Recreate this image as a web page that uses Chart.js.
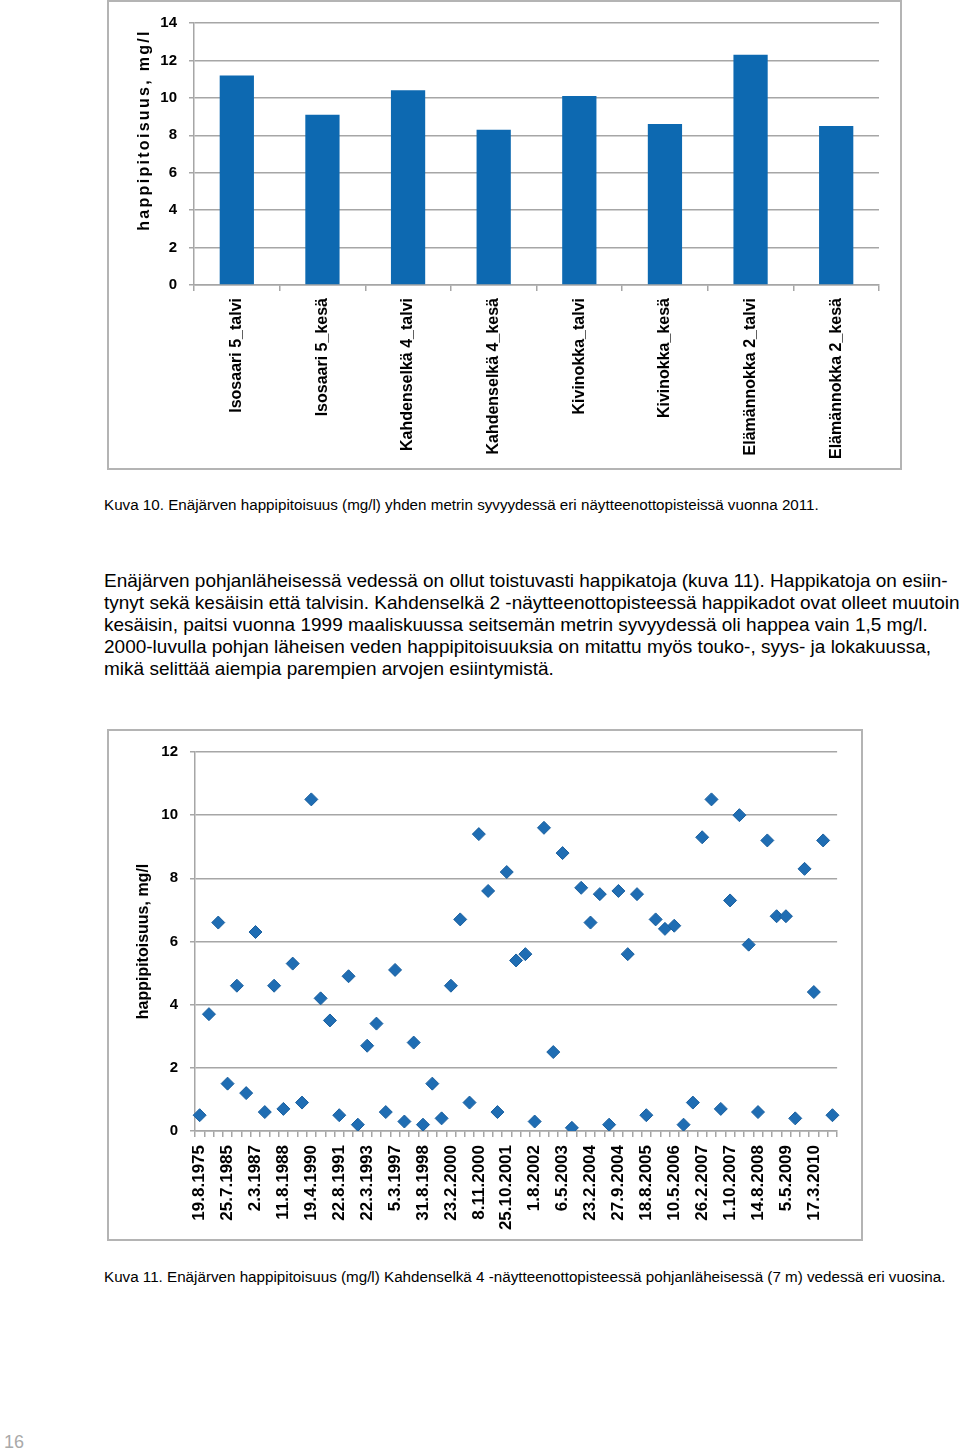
<!DOCTYPE html>
<html>
<head>
<meta charset="utf-8">
<script src="https://cdn.jsdelivr.net/npm/chart.js@4.4.1/dist/chart.umd.min.js"></script>
<style>
  body { margin: 0; background: #fff; font-family: "Liberation Sans", Arial, sans-serif; color: #000; }
  #page { position: relative; width: 960px; height: 1453px; overflow: hidden; }
  .box { position: absolute; border: 2px solid #b4b4b4; box-sizing: border-box; }
  .box canvas { position: absolute; left: 0; top: 0; }
  .caption { position: absolute; left: 104px; font-size: 15.2px; line-height: 16px; white-space: nowrap; }
  #para { position: absolute; left: 104px; top: 570px; font-size: 19px; line-height: 22px; white-space: nowrap; }
  #barTitle { position: absolute; left: 24px; top: 120px; width: 240px; height: 20px; line-height: 20px;
    text-align: center; font-weight: bold; font-size: 16px; letter-spacing: 2.3px; white-space: nowrap;
    transform: rotate(-90deg); }
  #pageNo { position: absolute; left: 4px; top: 1431px; font-size: 18px; line-height: 22px; color: #a9a9a9; }
</style>
</head>
<body>
<div id="page">
  <div class="box" style="left:107px; top:0px; width:795px; height:470px;">
    <canvas id="barChart" width="791" height="466"></canvas>
  </div>
  <div id="barTitle">happipitoisuus, mg/l</div>

  <div class="caption" style="top:497px;">Kuva 10. Enäjärven happipitoisuus (mg/l) yhden metrin syvyydessä eri näytteenottopisteissä vuonna 2011.</div>

  <div id="para">Enäjärven pohjanläheisessä vedessä on ollut toistuvasti happikatoja (kuva 11). Happikatoja on esiin-<br>tynyt sekä kesäisin että talvisin. Kahdenselkä 2 -näytteenottopisteessä happikadot ovat olleet muutoin<br>kesäisin, paitsi vuonna 1999 maaliskuussa seitsemän metrin syvyydessä oli happea vain 1,5 mg/l.<br>2000-luvulla pohjan läheisen veden happipitoisuuksia on mitattu myös touko-, syys- ja lokakuussa,<br>mikä selittää aiempia parempien arvojen esiintymistä.</div>

  <div class="box" style="left:107px; top:729px; width:756px; height:512px;">
    <canvas id="scatterChart" width="752" height="508"></canvas>
  </div>

  <div class="caption" style="top:1269px;">Kuva 11. Enäjärven happipitoisuus (mg/l) Kahdenselkä 4 -näytteenottopisteessä pohjanläheisessä (7 m) vedessä eri vuosina.</div>

  <div id="pageNo">16</div>
</div>

<script>
// Kuva 10 data
const siteLabels = ["Isosaari 5_talvi", "Isosaari 5_kesä", "Kahdenselkä 4_talvi", "Kahdenselkä 4_kesä",
  "Kivinokka_talvi", "Kivinokka_kesä", "Elämännokka 2_talvi", "Elämännokka 2_kesä"];
const siteOxygen = [11.2, 9.1, 10.4, 8.3, 10.1, 8.6, 12.3, 8.5];

// Kuva 11 data (only every third date is printed on the axis)
const sampleDates = ["19.8.1975", "25.7.1985", "2.3.1987", "11.8.1988", "19.4.1990", "22.8.1991",
  "22.3.1993", "5.3.1997", "31.8.1998", "23.2.2000", "8.11.2000", "25.10.2001", "1.8.2002",
  "6.5.2003", "23.2.2004", "27.9.2004", "18.8.2005", "10.5.2006", "26.2.2007", "1.10.2007",
  "14.8.2008", "5.5.2009", "17.3.2010"];
const bottomOxygen = [0.5, 3.7, 6.6, 1.5, 4.6, 1.2, 6.3, 0.6, 4.6, 0.7, 5.3, 0.9, 10.5, 4.2, 3.5,
  0.5, 4.9, 0.2, 2.7, 3.4, 0.6, 5.1, 0.3, 2.8, 0.2, 1.5, 0.4, 4.6, 6.7, 0.9, 9.4, 7.6, 0.6, 8.2,
  5.4, 5.6, 0.3, 9.6, 2.5, 8.8, 0.1, 7.7, 6.6, 7.5, 0.2, 7.6, 5.6, 7.5, 0.5, 6.7, 6.4, 6.5, 0.2,
  0.9, 9.3, 10.5, 0.7, 7.3, 10.0, 5.9, 0.6, 9.2, 6.8, 6.8, 0.4, 8.3, 4.4, 9.2, 0.5];

const dateAxis = bottomOxygen.map((v, i) => (i % 3 === 0 ? sampleDates[i / 3] : ""));

Chart.defaults.font.family = '"Liberation Sans", Arial, sans-serif';
Chart.defaults.color = "#000";
Chart.defaults.animation = false;

const gridGray = "#a6a6a6";

new Chart(document.getElementById("barChart"), {
  type: "bar",
  data: {
    labels: siteLabels,
    datasets: [{
      data: siteOxygen,
      backgroundColor: "#0d69b1",
      barPercentage: 0.4,
      categoryPercentage: 1,
    }],
  },
  options: {
    responsive: false,
    devicePixelRatio: 1,
    layout: { padding: { top: 19, right: 21, left: 0, bottom: 0 } },
    plugins: { legend: { display: false }, tooltip: { enabled: false } },
    scales: {
      x: {
        afterFit: (scale) => { scale.height = 183; },
        grid: { display: true, drawOnChartArea: false, drawTicks: true, tickLength: 6, offset: true, color: gridGray, lineWidth: 1.5 },
        border: { color: gridGray, width: 1.5 },
        ticks: { minRotation: 90, maxRotation: 90, autoSkip: false, padding: 7, font: { size: 16, weight: "bold" } },
      },
      y: {
        min: 0,
        max: 14,
        afterFit: (scale) => { scale.width = 85; },
        grid: { color: gridGray, lineWidth: 1.5, tickLength: 5 },
        border: { color: gridGray, width: 1.5 },
        ticks: { stepSize: 2, padding: 12, font: { size: 15, weight: "bold" } },
      },
    },
  },
});

new Chart(document.getElementById("scatterChart"), {
  type: "line",
  data: {
    labels: dateAxis,
    datasets: [{
      data: bottomOxygen,
      showLine: false,
      pointStyle: "rectRot",
      pointRadius: 6.5,
      pointBackgroundColor: "#1f6db3",
      pointBorderColor: "#1a5f9e",
      pointBorderWidth: 1,
    }],
  },
  options: {
    responsive: false,
    devicePixelRatio: 1,
    layout: { padding: { top: 19, right: 20, left: 0, bottom: 0 } },
    plugins: { legend: { display: false }, tooltip: { enabled: false } },
    scales: {
      x: {
        offset: true,
        afterFit: (scale) => { scale.height = 108; },
        grid: { display: true, drawOnChartArea: false, drawTicks: true, tickLength: 6, offset: true, color: gridGray, lineWidth: 1.5 },
        border: { color: gridGray, width: 1.5 },
        ticks: { minRotation: 90, maxRotation: 90, autoSkip: false, padding: 8, font: { size: 17, weight: "bold" } },
      },
      y: {
        min: 0,
        max: 12,
        afterFit: (scale) => { scale.width = 86; },
        title: { display: true, text: "happipitoisuus, mg/l", padding: { top: 25, bottom: 0 }, font: { size: 16, weight: "bold" } },
        grid: { color: gridGray, lineWidth: 1.5, tickLength: 5 },
        border: { color: gridGray, width: 1.5 },
        ticks: { stepSize: 2, padding: 12, font: { size: 15, weight: "bold" } },
      },
    },
  },
});
</script>
</body>
</html>
